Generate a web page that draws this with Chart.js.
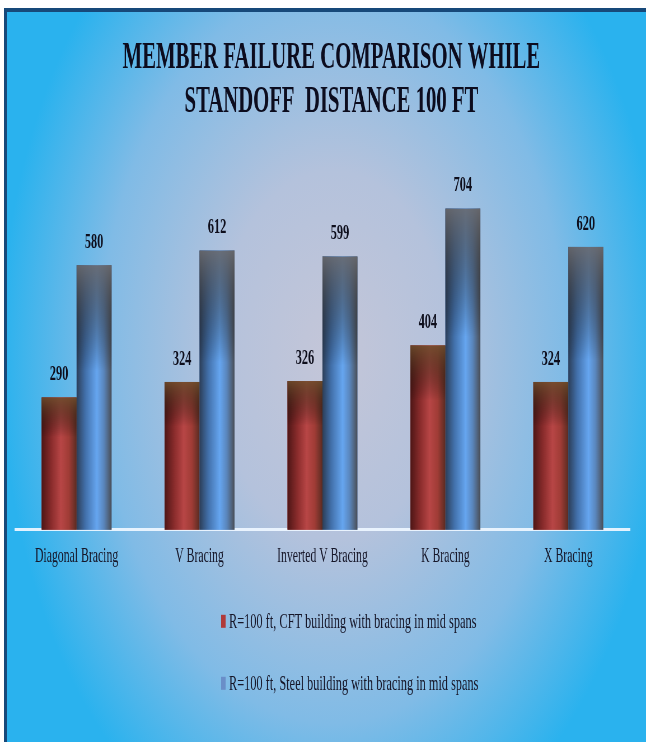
<!DOCTYPE html>
<html>
<head>
<meta charset="utf-8">
<script src="https://cdn.jsdelivr.net/npm/chart.js@4.4.1/dist/chart.umd.min.js"></script>
<style>
  html, body { margin: 0; padding: 0; background: #fff; }
  body { width: 646px; height: 742px; position: relative; overflow: hidden; }
  #frame {
    position: absolute; left: 4px; top: 8px; right: 0; bottom: 0;
    border-top: 4px solid #17497a; border-left: 3px solid #17497a;
    background: radial-gradient(ellipse 52% 72% at 51% 47%, #c4c6d8 0%, #b4c2dc 35%, #80bbe6 70%, #2ab2ee 100%);
  }
  #chart { position: absolute; left: 0; top: 0; }
</style>
</head>
<body>
<div id="frame"></div>
<!-- drawn wide then squeezed to 646px, the source picture is horizontally condensed -->
<canvas id="chart" width="1154" height="742" style="width:646px;height:742px"></canvas>
<script>
const categories = ["Diagonal Bracing", "V Bracing", "Inverted V Bracing", "K Bracing", "X Bracing"];
const cftValues = [290, 324, 326, 404, 324];
const steelValues = [580, 612, 599, 704, 620];
const seriesNames = [
  "R=100 ft, CFT building with bracing in mid spans",
  "R=100 ft, Steel building with bracing in mid spans",
];
const titleLines = ["MEMBER FAILURE COMPARISON WHILE", "STANDOFF  DISTANCE 100 FT"];

// cylinder-ish shading for each series: side stops left->right, then a darker cap fading down
const shades = [
  {
    base: "#a83c3c",
    marker: "#b03a3a",
    side: [[0, "#4e1616"], [0.28, "#8a2c2c"], [0.55, "#b84646"], [0.78, "#a03c36"], [1, "#5a2c22"]],
    cap: "rgba(108,78,44,0.85)",
    capLen: 0.3,
  },
  {
    base: "#5c92dc",
    marker: "#6a8ec8",
    side: [[0, "#2c3e58"], [0.25, "#4270aa"], [0.58, "#66a6f0"], [0.78, "#5a86bc"], [1, "#4a4e56"]],
    cap: "rgba(104,104,108,0.9)",
    capLen: 0.4,
  },
];

const barShade = {
  id: "barShade",
  afterDatasetsDraw(chart) {
    const ctx = chart.ctx;
    chart.data.datasets.forEach((ds, di) => {
      const sh = shades[di];
      chart.getDatasetMeta(di).data.forEach((bar) => {
        const left = bar.x - bar.width / 2;
        const h = bar.base - bar.y;
        ctx.save();
        const hg = ctx.createLinearGradient(left, 0, left + bar.width, 0);
        sh.side.forEach(([p, c]) => hg.addColorStop(p, c));
        ctx.fillStyle = hg;
        ctx.fillRect(left, bar.y, bar.width, h);
        const vg = ctx.createLinearGradient(0, bar.y, 0, bar.y + h * sh.capLen);
        vg.addColorStop(0, sh.cap);
        vg.addColorStop(1, "rgba(0,0,0,0)");
        ctx.fillStyle = vg;
        ctx.fillRect(left, bar.y, bar.width, h * sh.capLen);
        ctx.restore();
      });
    });
  },
};

const valueLabels = {
  id: "valueLabels",
  afterDatasetsDraw(chart) {
    const ctx = chart.ctx;
    ctx.save();
    ctx.font = "bold 22px 'Liberation Serif'";
    ctx.fillStyle = "#0e0e1c";
    ctx.textAlign = "center";
    ctx.textBaseline = "middle";
    chart.data.datasets.forEach((ds, di) => {
      chart.getDatasetMeta(di).data.forEach((bar, i) => {
        ctx.fillText(String(ds.data[i]), bar.x, bar.y - 23);
      });
    });
    ctx.restore();
  },
};

// legend stacked one per row under the axis
const stackLegend = {
  id: "stackLegend",
  afterDraw(chart) {
    const ctx = chart.ctx;
    const y0 = chart.chartArea.bottom + 92;
    ctx.save();
    ctx.font = "22px 'Liberation Serif'";
    ctx.textBaseline = "middle";
    ctx.textAlign = "left";
    chart.data.datasets.forEach((ds, di) => {
      const y = y0 + di * 62;
      ctx.fillStyle = shades[di].marker;
      ctx.fillRect(395, y - 7, 8, 13);
      ctx.fillStyle = "#161628";
      ctx.fillText(ds.label, 409, y);
    });
    ctx.restore();
  },
};

// title sits a little right of centre in the original
const titleNudge = {
  id: "titleNudge",
  afterLayout(chart) {
    const t = chart.titleBlock;
    if (t) {
      t.left += 16;
      t.right += 16;
    }
  },
};

const ctx = document.getElementById("chart").getContext("2d");
new Chart(ctx, {
  type: "bar",
  data: {
    labels: categories,
    datasets: [
      { label: seriesNames[0], data: cftValues, backgroundColor: shades[0].base, borderWidth: 0 },
      { label: seriesNames[1], data: steelValues, backgroundColor: shades[1].base, borderWidth: 0 },
    ],
  },
  options: {
    responsive: false,
    devicePixelRatio: 1,
    animation: false,
    layout: {
      padding: { left: 27, right: 29, top: 0, bottom: 167 },
    },
    datasets: {
      bar: { categoryPercentage: 0.569, barPercentage: 1 },
    },
    plugins: {
      legend: { display: false },
      tooltip: { enabled: false },
      title: {
        display: true,
        text: titleLines,
        color: "#0c0c1e",
        font: { family: "Liberation Serif", size: 37, weight: "bold", lineHeight: 1.2 },
        padding: { top: 36, bottom: 40 },
      },
    },
    scales: {
      x: {
        grid: { display: false },
        border: { color: "rgba(236,246,255,0.95)", width: 3 },
        ticks: {
          color: "#161628",
          padding: 6,
          font: { family: "Liberation Serif", size: 21 },
        },
      },
      y: {
        display: false,
        min: 0,
        max: 800,
      },
    },
  },
  plugins: [barShade, valueLabels, stackLegend, titleNudge],
});
</script>
</body>
</html>
